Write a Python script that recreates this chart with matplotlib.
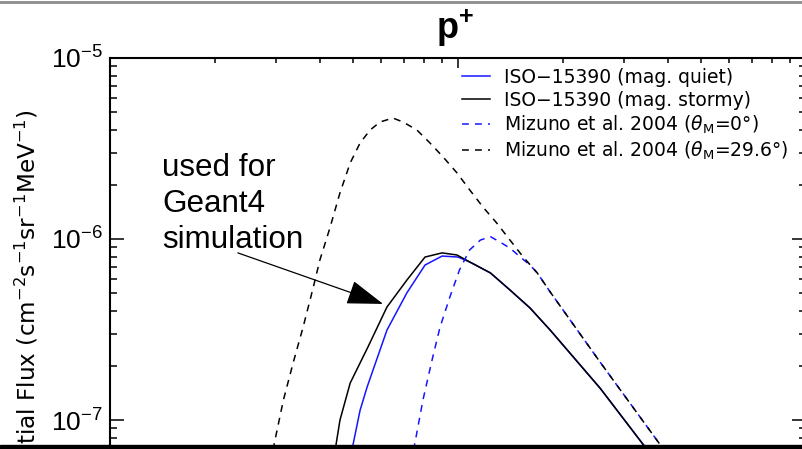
import numpy as np
import matplotlib
matplotlib.use('Agg')
import matplotlib.pyplot as plt
from matplotlib.lines import Line2D
from matplotlib.patches import Rectangle

plt.rcParams['font.family'] = ['Liberation Sans', 'DejaVu Sans']
plt.rcParams['mathtext.fontset'] = 'custom'
plt.rcParams['mathtext.rm'] = 'Liberation Sans'
plt.rcParams['mathtext.it'] = 'Liberation Sans:italic'
plt.rcParams['mathtext.bf'] = 'Liberation Sans:bold'

# energy (MeV) and differential flux
e_quiet = [4.86, 4.99, 5.23, 5.48, 6.25, 7.13, 8.04, 9.00, 10.0, 10.8, 12.4, 14.1, 16.1, 18.4, 25.6, 33.8, 37]
f_quiet = [6.0e-8, 7.27e-8, 1.13e-7, 1.52e-7, 3.14e-7, 5.04e-7, 7.18e-7, 8.05e-7, 7.95e-7, 7.47e-7,
           6.49e-7, 5.23e-7, 4.16e-7, 3.14e-7, 1.50e-7, 7.46e-8, 6.0e-8]

e_stormy = [4.35, 4.46, 4.58, 4.90, 5.51, 6.25, 7.13, 8.04, 9.00, 9.93, 10.8, 12.4, 14.1, 16.1, 18.4, 25.6, 33.8, 37]
f_stormy = [6.0e-8, 7.27e-8, 1.00e-7, 1.60e-7, 2.53e-7, 4.21e-7, 5.93e-7, 7.95e-7, 8.38e-7, 8.16e-7,
            7.47e-7, 6.49e-7, 5.23e-7, 4.16e-7, 3.14e-7, 1.50e-7, 7.46e-8, 6.0e-8]

e_miz0 = [7.3, 7.52, 7.93, 8.42, 8.88, 9.48, 10.1, 10.8, 11.6, 12.4, 13.2, 14.1, 15.1, 16.1, 16.9, 18.4, 25.6, 37.8, 42]
f_miz0 = [6.0e-8, 7.46e-8, 1.29e-7, 2.14e-7, 3.26e-7, 4.79e-7, 6.75e-7, 8.70e-7, 9.87e-7, 1.03e-6,
          9.62e-7, 8.91e-7, 7.95e-7, 7.18e-7, 6.49e-7, 5.10e-7, 2.09e-7, 7.46e-8, 5.5e-8]

e_miz296 = [2.9, 2.98, 3.15, 3.36, 3.59, 3.84, 4.01, 4.29, 4.58, 4.90, 5.23, 5.59, 5.97, 6.50, 6.95, 7.62,
            8.31, 9.06, 9.93, 10.8, 11.8, 12.9, 14.1, 15.4, 16.9, 18.4, 25.6, 37.8, 42]
f_miz296 = [6.0e-8, 7.76e-8, 1.29e-7, 2.07e-7, 3.27e-7, 5.43e-7, 7.66e-7, 1.16e-6, 1.80e-6, 2.63e-6,
            3.39e-6, 4.00e-6, 4.43e-6, 4.66e-6, 4.43e-6, 4.00e-6, 3.39e-6, 2.84e-6, 2.32e-6, 1.87e-6,
            1.50e-6, 1.23e-6, 9.87e-7, 7.95e-7, 6.49e-7, 5.10e-7, 2.09e-7, 7.46e-8, 5.5e-8]

labels = ['ISO\u221215390 (mag. quiet)',
          'ISO\u221215390 (mag. stormy)',
          r'Mizuno et al. 2004 ($\theta_{\rm M}$=0°)',
          r'Mizuno et al. 2004 ($\theta_{\rm M}$=29.6°)']

arrow_tip = (6.09, 4.38e-7)
arrow_tail = (2.33, 8.38e-7)

W, H = 802, 449
fig = plt.figure(figsize=(W / 100, H / 100), dpi=100)
# the screenshot is cropped: bottom and right of the axes fall outside
ax = fig.add_axes([110 / W, 1 - 474.3 / H, 696 / W, 416.3 / H])
ax.set_xscale('log')
ax.set_yscale('log')
ax.set_xlim(1, 100)
ax.set_ylim(10 ** -7.3, 1e-5)

dash = (0, (4.5, 4))
ax.plot(e_quiet, f_quiet, color='#1515ff', lw=1.1, label=labels[0])
ax.plot(e_stormy, f_stormy, color='black', lw=1.1, label=labels[1])
ax.plot(e_miz0, f_miz0, color='#1515ff', lw=1.1, ls=dash, label=labels[2])
ax.plot(e_miz296, f_miz296, color='black', lw=1.1, ls=dash, label=labels[3])

for s in ax.spines.values():
    s.set_linewidth(1.5)
ax.tick_params(which='both', direction='in', top=True, right=True, width=1.1, labelbottom=False)
ax.tick_params(axis='y', which='major', length=10, labelsize=19, pad=5)
ax.tick_params(axis='y', which='minor', length=5)
ax.tick_params(axis='x', which='major', length=7)
ax.tick_params(axis='x', which='minor', length=3.5)

leg = ax.legend(loc='upper left', bbox_to_anchor=(462 / W, 1 - 68 / H), bbox_transform=fig.transFigure,
                frameon=False, prop={'family': 'DejaVu Sans', 'size': 13.5}, handlelength=1.5,
                handletextpad=0.75, labelspacing=0.2, borderpad=0, borderaxespad=0)
for t in leg.get_texts():
    t.set_math_fontfamily('dejavusans')

fig.text(455 / W, 1 - 39 / H, r'p$^{\mathbf{+}}$', fontsize=26, fontweight='bold', ha='center', va='baseline')

ylab = fig.text(40 / W, 1 - 109 / H,
                r'Differential Flux (cm$^{-2}$s$^{-1}$sr$^{-1}$MeV$^{-1}$)',
                rotation=90, ha='right', va='top', fontsize=16.7, family='DejaVu Sans')
ylab.set_math_fontfamily('dejavusans')

fig.text(162 / W, 1 - 153 / H, 'used for\nGeant4\nsimulation', fontsize=22.6, ha='left', va='top',
         linespacing=1.25)
ax.annotate('', xy=arrow_tip, xytext=arrow_tail,
            arrowprops=dict(arrowstyle='-|>,head_length=2.3,head_width=0.77', color='black', lw=0.9,
                            shrinkA=0, shrinkB=0, mutation_scale=10))

# screenshot borders
fig.add_artist(Line2D([0, 1], [1 - 1.5 / H] * 2, color='#8c8c8c', lw=2, transform=fig.transFigure))
fig.add_artist(Rectangle((0, 0), 1, 4.5 / H, color='black', transform=fig.transFigure))

fig.savefig('out.png', dpi=100)
